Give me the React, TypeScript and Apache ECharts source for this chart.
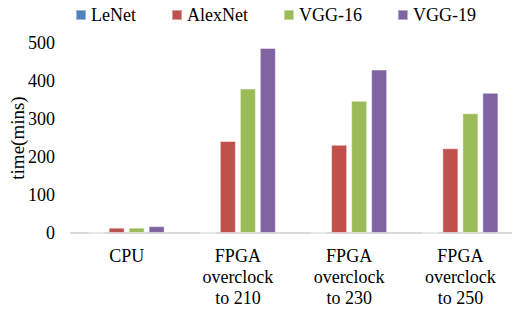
import React, { useEffect, useRef } from "react";
import * as echarts from "echarts";

const categories = ["CPU", "FPGA\noverclock\nto 210", "FPGA\noverclock\nto 230", "FPGA\noverclock\nto 250"];
const seriesNames = ["LeNet", "AlexNet", "VGG-16", "VGG-19"];
const leNet = [0.3, 0.4, 0.4, 0.4];
const alexNet = [14, 242, 232, 223];
const vgg16 = [14, 380, 348, 315];
const vgg19 = [18, 487, 430, 369];
const colors = ["#4F81BD", "#C0504D", "#9BBB59", "#8064A2"];
const yTicks = [0, 100, 200, 300, 400, 500];

const FONT = "Liberation Serif";

export default function App() {
  const ref = useRef<HTMLDivElement>(null);
  useEffect(() => {
    if (!ref.current) return;
    const chart = echarts.init(ref.current, null, { renderer: "svg" });
    const data = [leNet, alexNet, vgg16, vgg19];
    chart.setOption({
      animation: false,
      textStyle: { fontFamily: FONT },
      legend: {
        data: seriesNames,
        left: 70,
        top: 1,
        itemWidth: 10,
        itemHeight: 10,
        itemGap: 35,
        icon: "rect",
        textStyle: { fontFamily: FONT, fontSize: 18, color: "#000" },
      },
      grid: { left: 71, width: 445, top: 43, height: 190, outerBoundsMode: "none", containLabel: false },
      xAxis: {
        type: "category",
        data: categories,
        axisLine: { lineStyle: { color: "#d9d9d9", width: 2 } },
        axisTick: { show: false },
        axisLabel: {
          fontFamily: FONT,
          fontSize: 18,
          color: "#000",
          lineHeight: 21,
          margin: 12,
          interval: 0,
        },
      },
      yAxis: {
        type: "value",
        min: yTicks[0],
        max: yTicks[yTicks.length - 1],
        interval: 100,
        name: "time(mins)",
        nameLocation: "middle",
        nameRotate: 90,
        nameGap: 44,
        nameMoveOverlap: false,
        nameTextStyle: { fontFamily: FONT, fontSize: 19, color: "#000" },
        axisLine: { show: false },
        axisTick: { show: false },
        splitLine: { show: false },
        axisLabel: { fontFamily: FONT, fontSize: 18, color: "#000", margin: 16 },
      },
      series: seriesNames.map((name, i) => ({
        name,
        type: "bar",
        data: data[i],
        barWidth: 16,
        barGap: "25%",
        itemStyle: {
          color: colors[i],
          borderColor: "rgba(255,255,255,0.45)",
          borderWidth: 1,
        },
      })),
    });
    return () => chart.dispose();
  }, []);
  return (
    <div
      ref={ref}
      style={{ position: "fixed", left: 0, top: 0, width: 512, height: 311, background: "#fff" }}
    />
  );
}
